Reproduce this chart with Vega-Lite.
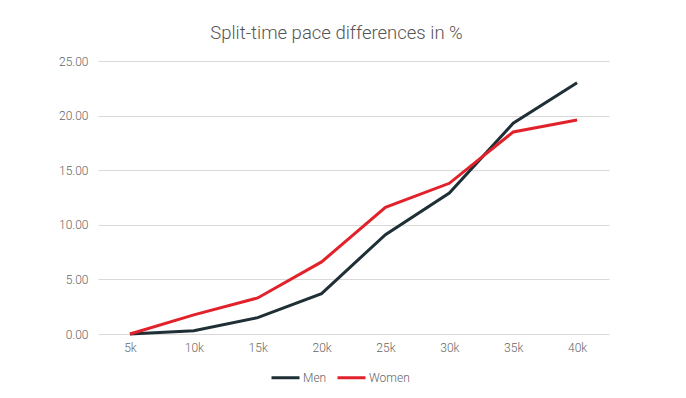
{
  "$schema": "https://vega.github.io/schema/vega-lite/v6.json",
  "width": 511,
  "height": 273,
  "autosize": {"type": "none"},
  "padding": {"left": 98, "top": 61, "right": 77, "bottom": 64},
  "background": "white",
  "title": {
    "text": "Split-time pace differences in %",
    "fontSize": 18.5,
    "font": "Roboto",
    "fontWeight": 300,
    "color": "#555555",
    "anchor": "middle",
    "dx": -17,
    "offset": 13
  },
  "data": {
    "values": [
      {"split": "5k", "gender": "Men", "value": 0},
      {"split": "10k", "gender": "Men", "value": 0.3},
      {"split": "15k", "gender": "Men", "value": 1.5},
      {"split": "20k", "gender": "Men", "value": 3.7},
      {"split": "25k", "gender": "Men", "value": 9.1},
      {"split": "30k", "gender": "Men", "value": 12.9},
      {"split": "35k", "gender": "Men", "value": 19.3},
      {"split": "40k", "gender": "Men", "value": 23.0},
      {"split": "5k", "gender": "Women", "value": 0},
      {"split": "10k", "gender": "Women", "value": 1.75},
      {"split": "15k", "gender": "Women", "value": 3.3},
      {"split": "20k", "gender": "Women", "value": 6.6},
      {"split": "25k", "gender": "Women", "value": 11.6},
      {"split": "30k", "gender": "Women", "value": 13.8},
      {"split": "35k", "gender": "Women", "value": 18.5},
      {"split": "40k", "gender": "Women", "value": 19.6}
    ]
  },
  "mark": {"type": "line", "strokeWidth": 3, "strokeJoin": "miter"},
  "encoding": {
    "x": {
      "field": "split",
      "type": "ordinal",
      "sort": ["5k", "10k", "15k", "20k", "25k", "30k", "35k", "40k"],
      "scale": {"type": "point", "padding": 0.5},
      "axis": {
        "title": null,
        "labelAngle": 0,
        "domain": false,
        "ticks": false,
        "labelPadding": 8,
        "labelFont": "Roboto",
        "labelFontWeight": 300,
        "labelFontSize": 12,
        "labelColor": "#666666"
      }
    },
    "y": {
      "field": "value",
      "type": "quantitative",
      "scale": {"domain": [0, 25], "nice": false},
      "axis": {
        "title": null,
        "values": [0, 5, 10, 15, 20, 25],
        "format": ".2f",
        "domain": false,
        "ticks": false,
        "labelPadding": 10,
        "gridColor": "#d9d9d9",
        "gridWidth": 1,
        "labelFont": "Roboto",
        "labelFontWeight": 300,
        "labelFontSize": 12,
        "labelColor": "#666666"
      }
    },
    "color": {
      "field": "gender",
      "type": "nominal",
      "scale": {"domain": ["Men", "Women"], "range": ["#1e2f36", "#e1222b"]},
      "legend": {
        "title": null,
        "orient": "none",
        "direction": "horizontal",
        "legendX": 172,
        "legendY": 301,
        "symbolType": "stroke",
        "symbolSize": 784,
        "symbolStrokeWidth": 3,
        "labelOffset": 2,
        "columnPadding": 4,
        "labelFont": "Roboto",
        "labelFontWeight": 300,
        "labelFontSize": 12,
        "labelColor": "#666666"
      }
    }
  },
  "config": {"view": {"stroke": null}}
}
